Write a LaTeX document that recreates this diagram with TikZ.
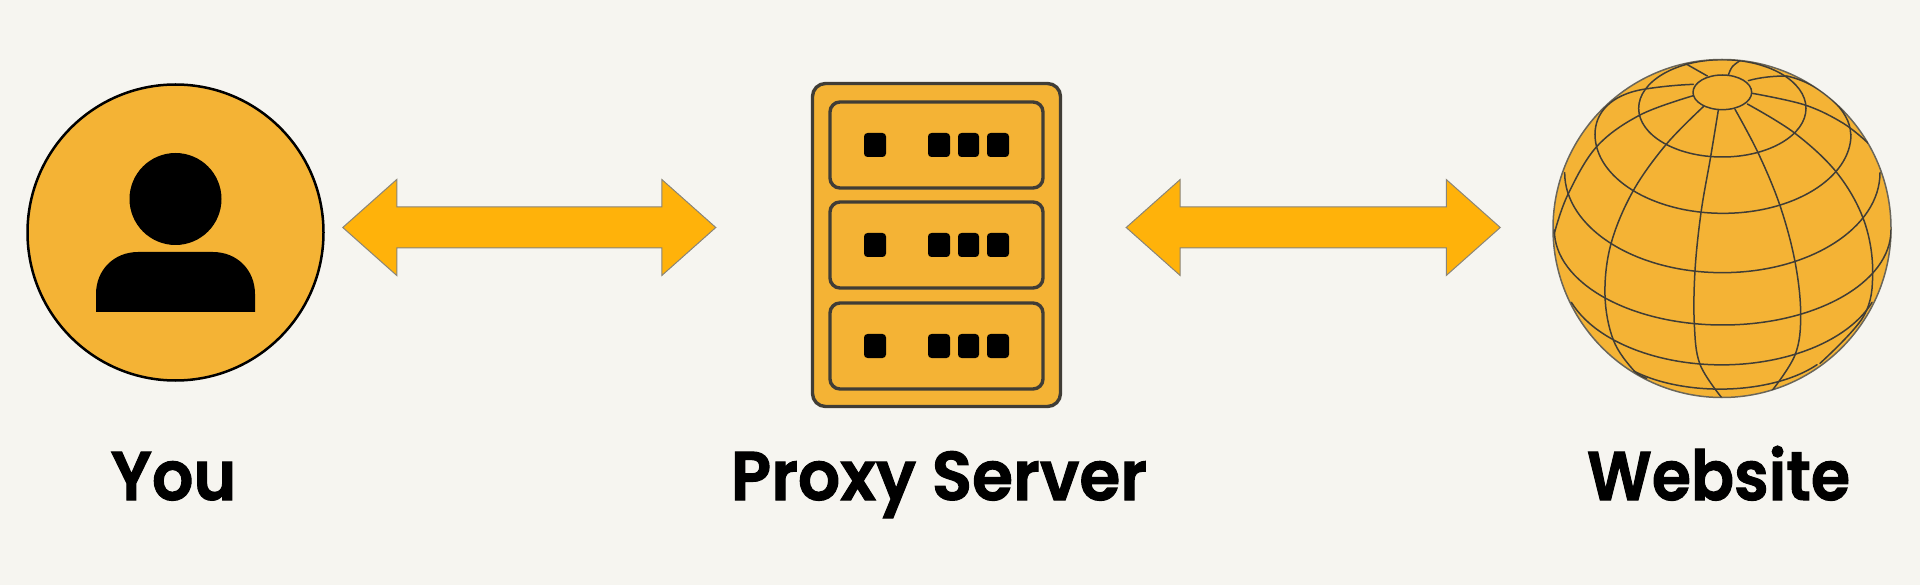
\documentclass[tikz,border=0pt]{standalone}
\usepackage{fontspec}
\setmainfont{Poppins}[BoldFont={Poppins SemiBold},BoldFeatures={FakeBold=1.5}]
\usetikzlibrary{calc}
\definecolor{bgc}{HTML}{F6F5F0}
\definecolor{amber}{HTML}{F4B335}
\definecolor{arrowc}{HTML}{FFB20A}
\definecolor{inkc}{HTML}{403D36}
\definecolor{edgec}{HTML}{8A8578}
\definecolor{rimc}{HTML}{6A665A}
\tikzset{
  blockarrow/.style={draw=edgec, line width=1pt, fill=arrowc, line join=miter},
  label/.style={anchor=base, font=\fontsize{69}{69}\selectfont\bfseries, text=black, inner sep=0pt},
  rack/.style={draw=inkc, line width=3.4pt, rounded corners=10pt},
  led/.style={fill=black, rounded corners=3.5pt},
  gridline/.style={draw=inkc, line width=1.5pt, line join=round, line cap=round},
  curve/.style={smooth, tension=0.6}
}
\newcommand{\sunit}[1]{%
  \draw[rack] (830,#1) rectangle ++(213,86);
  \fill[led] (864,#1+31) rectangle ++(22,24);
  \fill[led] (928,#1+31) rectangle ++(22,24);
  \fill[led] (958,#1+31) rectangle ++(21,24);
  \fill[led] (987,#1+31) rectangle ++(22,24);
}
\newcommand{\lbl}[2]{\scalebox{#1}[1]{#2}}
\newcommand{\dblarrow}[2]{%
  \draw[blockarrow] (#1) -- ++(54,-48) -- ++(0,27.5) -- ($(#2)+(-54,-20.5)$) -- ++(0,-27.5)
    -- (#2) -- ++(-54,48) -- ++(0,-27.5) -- ($(#1)+(54,20.5)$) -- ++(0,27.5) -- cycle;
}
\begin{document}
\begin{tikzpicture}[x=1pt,y=-1pt]
\fill[bgc] (0,0) rectangle (1920,585);
\useasboundingbox (0,0) rectangle (1920,585);

% You
\node[circle, draw=black, line width=2.5pt, fill=amber, minimum size=296pt, inner sep=0pt] (you) at (175.5,232.5) {};
\node[circle, fill=black, minimum size=92pt, inner sep=0pt] (head) at (175.5,199) {};
\fill[black] (96,312) -- (96,294) .. controls (96,270) and (114,252) .. (138,252)
  -- (213,252) .. controls (237,252) and (255,270) .. (255,294) -- (255,312) -- cycle;

% Proxy server
\node[draw=inkc, line width=3.4pt, fill=amber, rounded corners=13pt, minimum width=248pt, minimum height=323pt, inner sep=0pt] (server) at (936.5,245) {};
\sunit{102}
\sunit{202}
\sunit{303}

% Website globe
\node[circle, draw=rimc, line width=1.5pt, fill=amber, minimum size=338pt, inner sep=0pt] (globe) at (1722,228.5) {};
\begin{scope}[shift={(1500,30)}, x=0.33333pt, y=-0.33333pt]
  \clip (667,595.5) circle [radius=507];
  \draw[gridline] (667,235) ellipse [x radius=251, y radius=146];
  \draw[gridline] (667,187) ellipse [x radius=88, y radius=52];
  % latitude lines
  \draw[gridline] (285,313) arc [start angle=180, end angle=0, x radius=384, y radius=237];
  \draw[gridline] (580,163) .. controls (530,165) and (480,170) .. (430,178) .. controls (330,195) and (285,250) .. (285,313);
  \draw[gridline] (745,152) .. controls (780,142) and (820,138) .. (860,138) .. controls (960,160) and (1052,240) .. (1052,313);
  \draw[gridline] (194,428) arc [start angle=180, end angle=0, x radius=473, y radius=300];
  \draw[gridline] (163,600) arc [start angle=180, end angle=0, x radius=505, y radius=285];
  \draw[gridline] (214,817) arc [start angle=160, end angle=20, x radius=480, y radius=285];
  \draw[gridline] (401,1023) arc [start angle=136, end angle=36, x radius=360, y radius=178];
  % meridians
  \draw[gridline] plot[curve] coordinates {(655,240) (632,380) (603,548) (585,722) (583,883) (600,1003) (665,1103)};
  \draw[gridline] plot[curve] coordinates {(610,230) (497,345) (397,487) (332,645) (315,798) (340,930) (400,1020) (440,1045)};
  \draw[gridline] plot[curve] coordinates {(705,238) (775,370) (840,527) (885,695) (902,852) (885,975) (810,1090)};
  \draw[gridline] plot[curve] coordinates {(742,222) (885,310) (1012,430) (1092,572) (1118,725) (1090,860) (960,1000)};
  \draw[gridline] plot[curve] coordinates {(580,197) (420,255) (290,350) (203,495) (163,610)};
  \draw[gridline] plot[curve] coordinates {(757,190) (915,225) (1030,280) (1105,340)};
  \draw[gridline] (622,138) -- (555,100);
  \draw[gridline] plot[curve] coordinates {(685,135) (697,110) (720,92)};
\end{scope}

% Arrows between the parts
\coordinate (ala) at ($(you.east)+(18,-5)$);
\coordinate (ara) at ($(server.west)+(-95,-17.5)$);
\coordinate (alb) at ($(server.east)+(64,-17.5)$);
\coordinate (arb) at ($(globe.west)+(-52,-1)$);
\dblarrow{ala}{ara}
\dblarrow{alb}{arb}

% Labels
\node[label] (youlabel) at (173.5,500) {\lbl{0.94}{You}};
\node[label] (serverlabel) at (939,500) {\lbl{0.96}{Proxy Server}};
\node[label] (weblabel) at (1718.5,500) {\lbl{0.92}{Website}};
\end{tikzpicture}
\end{document}
